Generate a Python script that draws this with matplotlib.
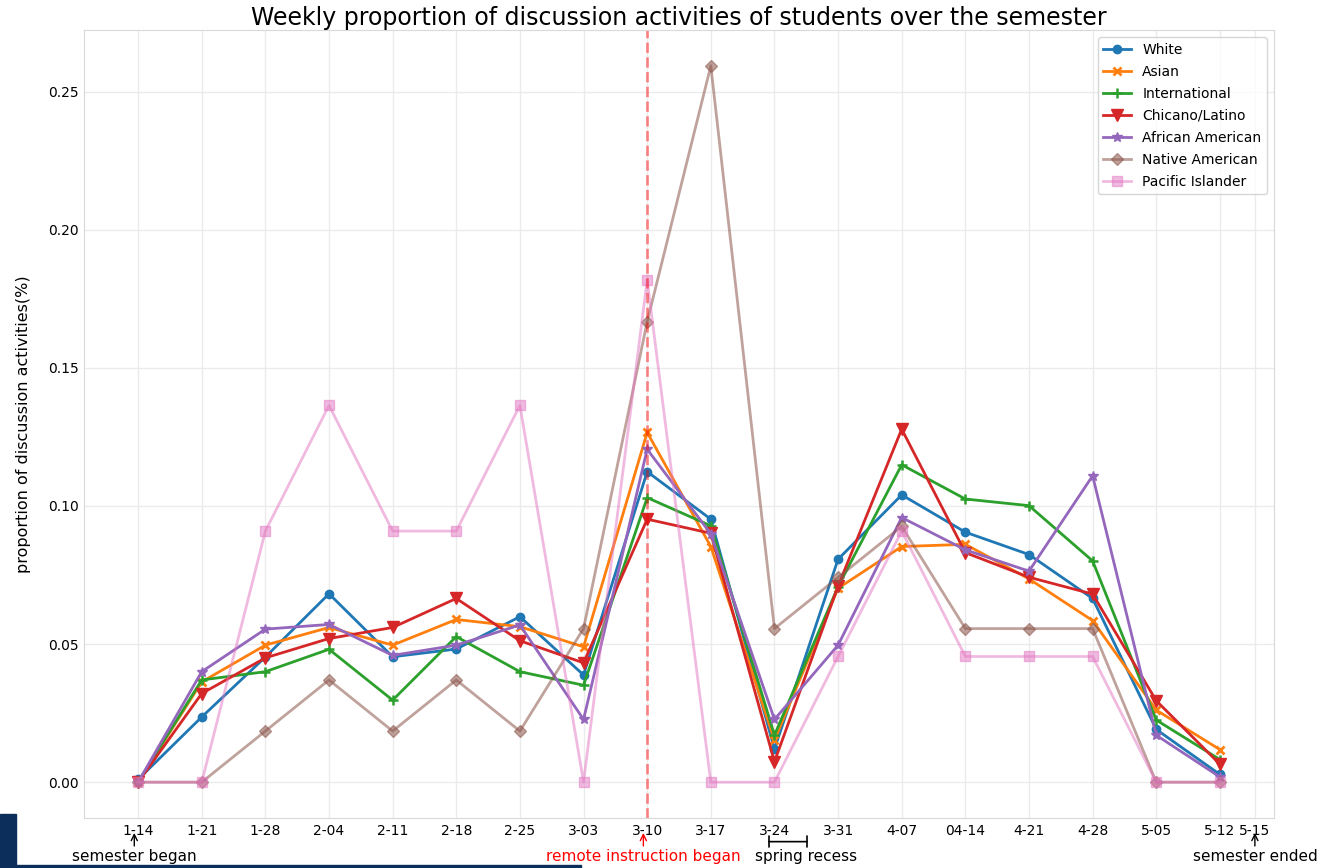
import numpy as np
import matplotlib.pyplot as plt
from matplotlib.patches import Rectangle

# semanas (eixo x)
weeks = ['1-14', '1-21', '1-28', '2-04', '2-11', '2-18', '2-25', '3-03', '3-10',
         '3-17', '3-24', '3-31', '4-07', '04-14', '4-21', '4-28', '5-05', '5-12']

white = [0.001, 0.0236, 0.0453, 0.0682, 0.0454, 0.0482, 0.0599, 0.0388, 0.1124,
         0.0952, 0.0120, 0.0807, 0.1040, 0.0905, 0.0824, 0.0665, 0.0191, 0.0028]
asian = [0.0, 0.0363, 0.0496, 0.0560, 0.0496, 0.0589, 0.0563, 0.0490, 0.1266,
         0.0853, 0.0152, 0.0702, 0.0853, 0.0861, 0.0736, 0.0585, 0.0261, 0.0118]
international = [0.0, 0.0370, 0.0400, 0.0481, 0.0297, 0.0527, 0.0400, 0.0351, 0.1030,
                 0.0928, 0.0170, 0.0708, 0.1149, 0.1025, 0.1001, 0.0801, 0.0225, 0.0082]
chicano = [0.0, 0.0321, 0.0450, 0.0520, 0.0560, 0.0665, 0.0512, 0.0432, 0.0952,
           0.0901, 0.0074, 0.0710, 0.1278, 0.0831, 0.0742, 0.0681, 0.0295, 0.0065]
african = [0.0, 0.0400, 0.0554, 0.0571, 0.0459, 0.0496, 0.0569, 0.0227, 0.1205,
           0.0899, 0.0227, 0.0496, 0.0958, 0.0841, 0.0764, 0.1109, 0.0170, 0.0019]
native = [0.0, 0.0, 0.0185, 0.0370, 0.0185, 0.0370, 0.0185, 0.0556, 0.1667,
          0.2593, 0.0556, 0.0741, 0.0926, 0.0556, 0.0556, 0.0556, 0.0, 0.0]
pacific = [0.0, 0.0, 0.0909, 0.1364, 0.0909, 0.0909, 0.1364, 0.0, 0.1818,
           0.0, 0.0, 0.0455, 0.0909, 0.0455, 0.0455, 0.0455, 0.0, 0.0]

x = np.arange(len(weeks))

fig = plt.figure(figsize=(13.21, 8.68), dpi=100)
ax = fig.add_axes([0.0636, 0.0576, 0.9008, 0.9078])

ax.plot(x, white, '-o', color='tab:blue', lw=2, ms=6, label='White')
ax.plot(x, asian, '-x', color='tab:orange', lw=2, ms=6, mew=2, label='Asian')
ax.plot(x, international, '-+', color='tab:green', lw=2, ms=7, mew=1.8, label='International')
ax.plot(x, chicano, '-v', color='tab:red', lw=2, ms=8.5, label='Chicano/Latino')
ax.plot(x, african, '-*', color='tab:purple', lw=2, ms=7, label='African American')
ax.plot(x, native, '-D', color='tab:brown', lw=2, ms=6.5, alpha=0.55, label='Native American')
ax.plot(x, pacific, '-s', color='tab:pink', lw=2, ms=6.5, alpha=0.5, label='Pacific Islander')

# inicio das aulas remotas
ax.axvline(8, color='red', ls='--', lw=2, alpha=0.45)

ax.set_xticks(list(x) + [17.55])
ax.set_xticklabels(weeks + ['5-15'])
ax.tick_params(length=0, labelsize=10, pad=4)
ax.grid(True, color='#ebebeb', lw=1)
for s in ax.spines.values():
    s.set_color('#d9d9d9')
ax.set_ylabel('proportion of discussion activities(%)', fontsize=11.5, labelpad=12)
ax.set_title('Weekly proportion of discussion activities of students over the semester', fontsize=17, pad=3)
ax.legend(loc='upper right', fontsize=10, labelspacing=0.58)

# anotacoes embaixo do eixo
y_tip, y_txt = -0.019, -0.039
arrow_k = dict(arrowstyle='->', color='black', shrinkA=0, shrinkB=0)
ax.annotate('semester began', xy=(-0.06, y_tip), xycoords=('data', 'axes fraction'),
            xytext=(-0.06, y_txt), textcoords=('data', 'axes fraction'), ha='center', va='top',
            fontsize=11, arrowprops=arrow_k, annotation_clip=False)
ax.annotate('remote instruction began', xy=(7.94, y_tip), xycoords=('data', 'axes fraction'),
            xytext=(7.94, y_txt), textcoords=('data', 'axes fraction'), ha='center', va='top',
            fontsize=11, color='red', arrowprops=dict(arrowstyle='->', color='red', shrinkA=0, shrinkB=0),
            annotation_clip=False)
ax.annotate('semester ended', xy=(17.55, y_tip), xycoords=('data', 'axes fraction'),
            xytext=(17.55, y_txt), textcoords=('data', 'axes fraction'), ha='center', va='top',
            fontsize=11, arrowprops=arrow_k, annotation_clip=False)
ax.annotate('', xy=(9.91, -0.030), xycoords=('data', 'axes fraction'),
            xytext=(10.51, -0.030), textcoords=('data', 'axes fraction'),
            arrowprops=dict(arrowstyle='|-|, widthA=0.4, widthB=0.4', color='black', lw=1.2,
                            shrinkA=0, shrinkB=0),
            annotation_clip=False)
ax.text(10.5, y_txt, 'spring recess', transform=ax.get_xaxis_transform(), ha='center', va='top',
        fontsize=11)

# faixa azul do slide no canto
fig.patches.append(Rectangle((0, 0), 0.012, 0.062, transform=fig.transFigure, color='#0b2e5a', zorder=0))
fig.patches.append(Rectangle((0, 0), 0.44, 0.004, transform=fig.transFigure, color='#0b2e5a', zorder=0))

plt.savefig('out.png', dpi=100)
